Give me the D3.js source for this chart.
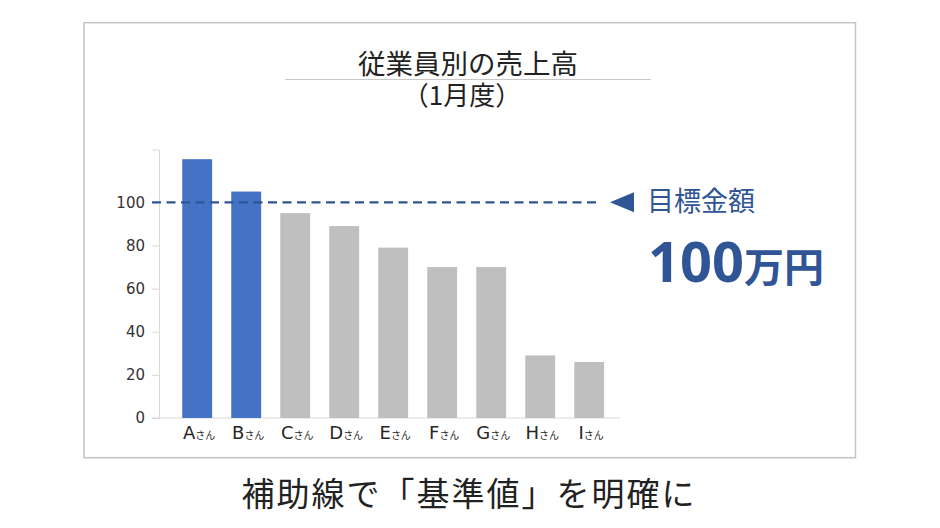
<!DOCTYPE html>
<html>
<head>
<meta charset="utf-8">
<script src="https://cdn.jsdelivr.net/npm/d3@7"></script>
<style>
  body { margin: 0; background: #fff; }
</style>
</head>
<body>
<svg width="940" height="528"></svg>
<script>
const names = ['A', 'B', 'C', 'D', 'E', 'F', 'G', 'H', 'I'];
const sales = [120, 105, 95, 89, 79, 70, 70, 29, 26];
const yTicks = [0, 20, 40, 60, 80, 100];
const target = 100;

const jp = '"Noto Sans CJK JP", sans-serif';
const blue = '#2f5597';

const svg = d3.select('svg');

// outer frame
svg.append('rect')
    .attr('x', 84).attr('y', 22.7)
    .attr('width', 771.5).attr('height', 435)
    .attr('fill', '#fff')
    .attr('stroke', '#c4c4c4')
    .attr('stroke-width', 1.5);

const xScale = d3.scaleBand()
    .domain(names)
    .range([172.7, 613.7])
    .paddingInner(0.39)
    .paddingOuter(0.195);
const yScale = d3.scaleLinear().domain([0, 124.5]).range([418, 149.5]);

// axes
const yAxis = svg.append('g')
    .attr('transform', 'translate(159,0)')
    .call(d3.axisLeft(yScale).tickValues(yTicks).tickSize(7).tickPadding(7));
yAxis.select('.domain').attr('stroke', '#d9d9d9');
yAxis.selectAll('.tick line').attr('stroke', '#d9d9d9');
yAxis.selectAll('.tick text')
    .style('font-family', '"DejaVu Sans"')
    .style('font-size', '15px')
    .attr('fill', '#333');

svg.append('line')
    .attr('x1', 152).attr('x2', 620)
    .attr('y1', yScale(0)).attr('y2', yScale(0))
    .attr('stroke', '#d9d9d9')
    .attr('stroke-width', 1.2);

// bars
svg.selectAll('.bar')
    .data(names)
    .enter()
    .append('rect')
    .classed('bar', true)
    .attr('x', d => xScale(d))
    .attr('y', (d, i) => yScale(sales[i]))
    .attr('width', xScale.bandwidth())
    .attr('height', (d, i) => yScale(0) - yScale(sales[i]))
    .attr('fill', (d, i) => sales[i] >= target ? '#4472c4' : '#bfbfbf');

// category labels "Xさん"
const labels = svg.selectAll('.cat')
    .data(names)
    .enter()
    .append('text')
    .classed('cat', true)
    .attr('x', d => xScale(d) + xScale.bandwidth() / 2 + 2)
    .attr('y', 438.5)
    .style('text-anchor', 'middle')
    .attr('fill', '#262626');
labels.append('tspan')
    .text(d => d)
    .style('font-family', '"DejaVu Sans"')
    .style('font-size', '18px');
labels.append('tspan')
    .text('さん')
    .style('font-family', jp)
    .style('font-size', '10px');

// target line
svg.append('line')
    .attr('x1', 152).attr('x2', 598)
    .attr('y1', yScale(target)).attr('y2', yScale(target))
    .attr('stroke', blue)
    .attr('stroke-width', 2.2)
    .attr('stroke-dasharray', '9,5.5');

const ty = yScale(target);
svg.append('path')
    .attr('d', `M610,${ty} L634,${ty - 10} L634,${ty + 10} Z`)
    .attr('fill', blue);

svg.append('text')
    .attr('x', 647).attr('y', 211)
    .text('目標金額')
    .style('font-family', jp)
    .style('font-size', '27px')
    .attr('fill', blue);

const big = svg.append('text')
    .attr('x', 648).attr('y', 281.5)
    .attr('fill', blue)
    .style('font-weight', 'bold');
big.append('tspan')
    .text(target)
    .style('font-family', '"Noto Sans"')
    .style('font-size', '56px');
big.append('tspan')
    .text('万円')
    .style('font-family', jp)
    .style('font-size', '40px');

// title
svg.append('text')
    .attr('x', 468).attr('y', 74)
    .text('従業員別の売上高')
    .style('font-family', jp)
    .style('font-size', '27.5px')
    .style('text-anchor', 'middle')
    .attr('fill', '#222');
svg.append('line')
    .attr('x1', 285).attr('x2', 651)
    .attr('y1', 79.5).attr('y2', 79.5)
    .attr('stroke', '#c8c8c8')
    .attr('stroke-width', 1);
svg.append('text')
    .attr('x', 462).attr('y', 105)
    .text('（1月度）')
    .style('font-family', jp)
    .style('font-size', '26px')
    .style('text-anchor', 'middle')
    .attr('fill', '#222');

// caption below the chart
svg.append('text')
    .attr('x', 469).attr('y', 506)
    .text('補助線で「基準値」を明確に')
    .style('font-family', jp)
    .style('font-size', '33px')
    .style('letter-spacing', '2px')
    .style('text-anchor', 'middle')
    .attr('fill', '#222');
</script>
</body>
</html>
